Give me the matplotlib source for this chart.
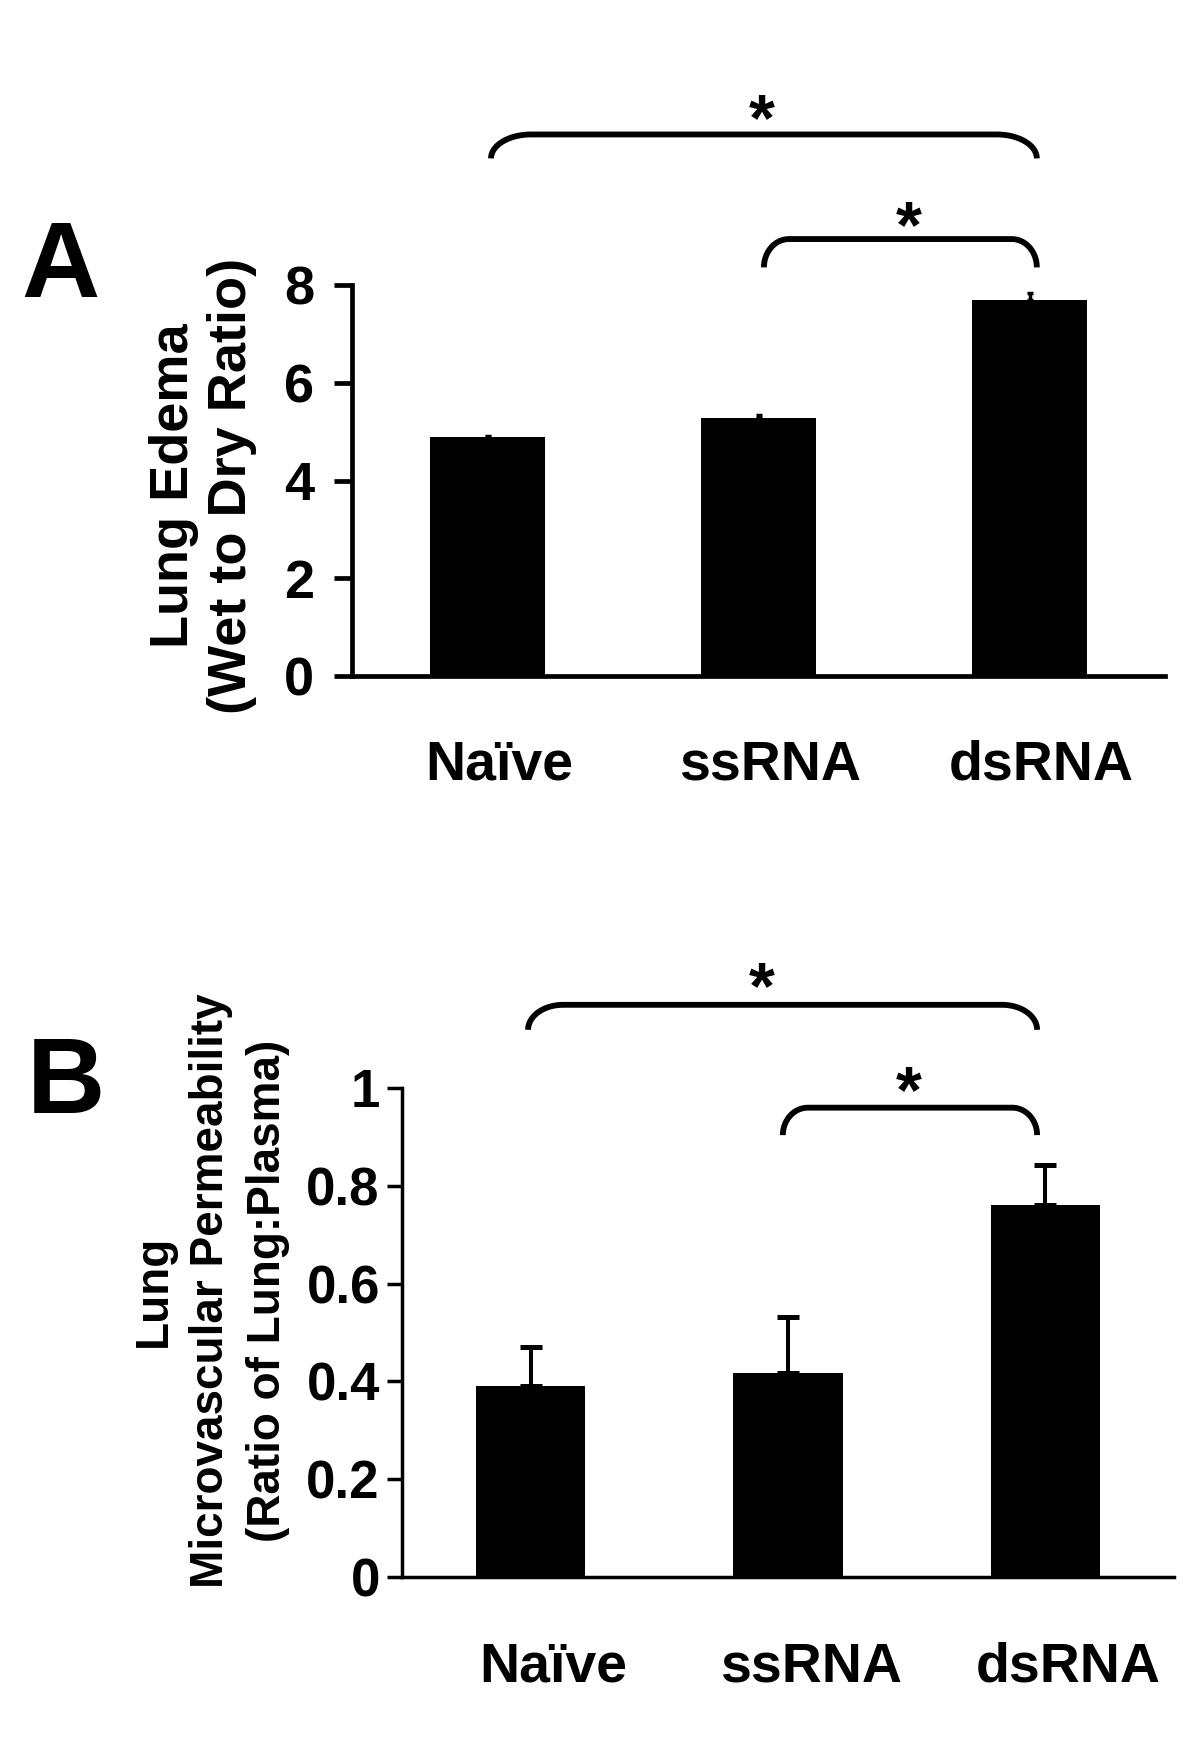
import numpy as np
import matplotlib
matplotlib.use('Agg')
import matplotlib.pyplot as plt
from matplotlib.transforms import ScaledTranslation

plt.rcParams['font.family'] = ['Liberation Sans', 'DejaVu Sans']
plt.rcParams['font.weight'] = 'bold'

# data
groups = ['Naïve', 'ssRNA', 'dsRNA']
edema_mean = [4.88, 5.27, 7.69]
edema_err = [0.035, 0.08, 0.14]
perm_mean = [0.390, 0.418, 0.760]
perm_err = [0.081, 0.114, 0.082]
edema_ticks = [0, 2, 4, 6, 8]
perm_ticks = [0, 0.2, 0.4, 0.6, 0.8, 1]
perm_ticklabels = ['0', '0.2', '0.4', '0.6', '0.8', '1']

W, H = 1200, 1746
fig = plt.figure(figsize=(W / 100, H / 100), dpi=100)


def frac(l, t, r, b):
    return [l / W, 1 - b / H, (r - l) / W, (b - t) / H]


axA = fig.add_axes(frac(352, 285, 1165, 676))
axB = fig.add_axes(frac(402, 1087.6, 1174, 1577.4))


def bracket(ax, x0, x1, ybot, ytop, rx, lw=4.2):
    p0 = ax.transData.transform((x0, ybot))
    p1 = ax.transData.transform((x1, ytop))
    ry = p1[1] - p0[1]
    t = np.linspace(0, np.pi / 2, 40)
    lx = p0[0] + rx - rx * np.cos(t)
    ly = p0[1] + ry * np.sin(t)
    rxs = p1[0] - rx + rx * np.cos(t[::-1])
    rys = p0[1] + ry * np.sin(t[::-1])
    pts = np.column_stack([np.r_[lx, rxs], np.r_[ly, rys]])
    d = ax.transData.inverted().transform(pts)
    ax.plot(d[:, 0], d[:, 1], color='black', lw=lw, clip_on=False,
            solid_capstyle='butt', solid_joinstyle='round')


def star(ax, x, y):
    ax.annotate('*', (x, y), xytext=(0, -14), textcoords='offset points',
                ha='center', va='center', fontsize=48, fontweight='bold',
                annotation_clip=False)


def style(ax, lw, ticklen, pad, tsize, xpad, xshift):
    for s in ['top', 'right']:
        ax.spines[s].set_visible(False)
    for s in ['left', 'bottom']:
        ax.spines[s].set_linewidth(lw)
    ax.tick_params(axis='y', length=ticklen, width=lw, pad=pad, labelsize=tsize)
    ax.tick_params(axis='x', length=0, pad=xpad, labelsize=40)
    ax.set_xlim(-0.5, 2.5)
    off = ScaledTranslation(xshift / 100, 0, fig.dpi_scale_trans)
    for lab in ax.get_xticklabels():
        lab.set_transform(lab.get_transform() + off)


x = np.arange(len(groups))

# panel A
axA.bar(x, edema_mean, width=0.425, color='black')
axA.errorbar(x, edema_mean, yerr=[[0, 0, 0], edema_err], fmt='none',
             ecolor='black', elinewidth=2.5, capsize=2.5, capthick=2.5)
axA.set_ylim(0, 8)
axA.set_yticks(edema_ticks)
axA.set_xticks(x)
axA.set_xticklabels(groups)
style(axA, 3.4, 13, 14, 39, 46, 12)

bracket(axA, 0.013, 2.027, 10.59, 11.08, 40)
bracket(axA, 1.02, 2.027, 8.36, 8.94, 25)
star(axA, 1.013, 11.72)
star(axA, 1.556, 9.53)

# panel B
axB.bar(x, perm_mean, width=0.425, color='black')
axB.errorbar(x, perm_mean, yerr=[[0, 0, 0], perm_err], fmt='none',
             ecolor='black', elinewidth=2.9, capsize=8, capthick=3.6)
axB.set_ylim(0, 1)
axB.set_yticks(perm_ticks)
axB.set_yticklabels(perm_ticklabels)
axB.set_xticks(x)
axB.set_xticklabels(groups)
style(axB, 2.5, 11, 5, 38, 46, 23)

bracket(axB, -0.01, 1.968, 1.118, 1.169, 35)
bracket(axB, 0.98, 1.968, 0.903, 0.959, 25)
star(axB, 0.899, 1.236)
star(axB, 1.47, 1.024)

# axis titles and panel letters
fig.text(203 / W, 1 - 486 / H, 'Lung Edema\n(Wet to Dry Ratio)', rotation=90,
         ha='center', va='center', multialignment='center', fontsize=39,
         fontweight='bold')
fig.text(211 / W, 1 - 1291 / H,
         'Lung\nMicrovascular Permeability\n(Ratio of Lung:Plasma)',
         rotation=90, ha='center', va='center', multialignment='center',
         fontsize=33, fontweight='bold', linespacing=1.38)
fig.text(21 / W, 1 - 297 / H, 'A', fontsize=78, fontweight='bold',
         ha='left', va='baseline')
fig.text(27 / W, 1 - 1113 / H, 'B', fontsize=78, fontweight='bold',
         ha='left', va='baseline')

fig.savefig('out.png', dpi=100, facecolor='white')
